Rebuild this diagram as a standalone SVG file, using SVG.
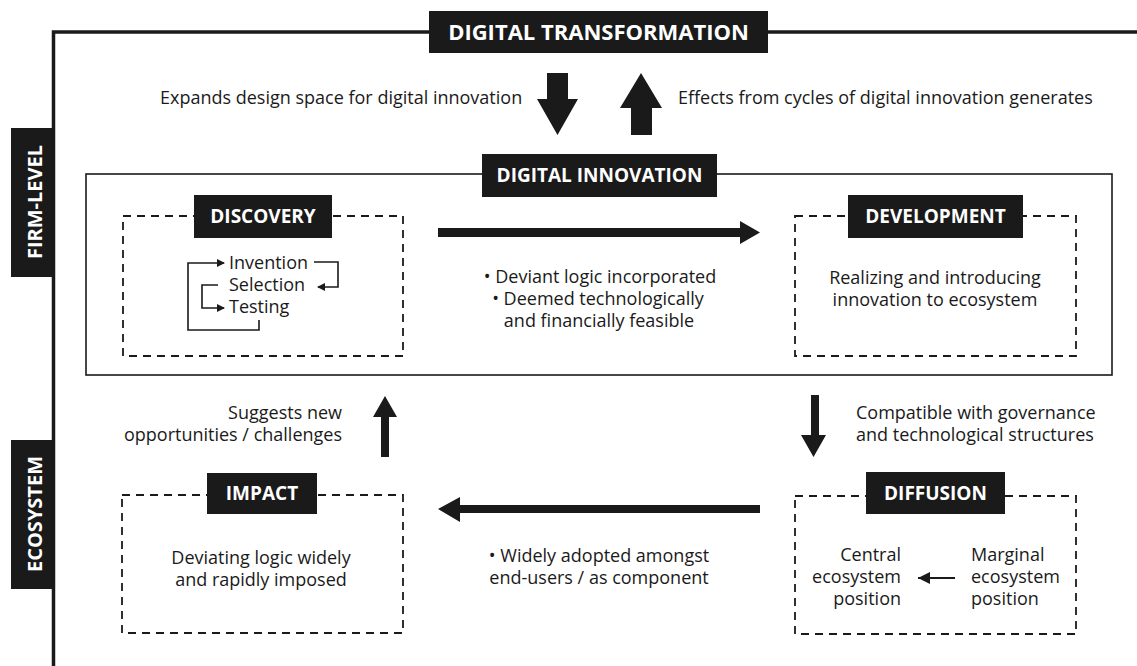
<svg xmlns="http://www.w3.org/2000/svg" width="1137" height="666" viewBox="0 0 1137 666">
<style>
.t{font-family:"Open Sans","Liberation Sans",sans-serif;font-size:18px;fill:#1a1a1a}
.h{font-family:"Open Sans","Liberation Sans",sans-serif;font-weight:bold;font-size:19px;fill:#fff;text-anchor:middle}
.lab{fill:#1a1a1a}
.dash{fill:none;stroke:#1a1a1a;stroke-width:1.8;stroke-dasharray:8 6}
.thin{fill:none;stroke:#1a1a1a;stroke-width:1.6}
.fill{fill:#1a1a1a}
.m{text-anchor:middle}
.e{text-anchor:end}
</style>
<defs>
<marker id="ah" markerWidth="8" markerHeight="8" refX="7" refY="4" orient="auto" markerUnits="userSpaceOnUse" viewBox="0 0 8 8">
<path d="M0,0 L8,4 L0,8 z" fill="#1a1a1a"/>
</marker>
<marker id="ahs" markerWidth="12" markerHeight="12" refX="12" refY="6" orient="auto" markerUnits="userSpaceOnUse" viewBox="0 0 12 12">
<path d="M0,0 L12,6 L0,12 z" fill="#1a1a1a"/>
</marker>
</defs>
<rect width="1137" height="666" fill="#fff"/>

<g id="frame">
<path d="M53.5,666 V32 H1137" fill="none" stroke="#1a1a1a" stroke-width="3.5"/>
</g>

<g id="firm-level">
<rect class="lab" x="11" y="128" width="42" height="149"/>
<text class="h" transform="translate(42,202) rotate(-90)" style="font-size:20px">FIRM-LEVEL</text>
</g>
<g id="ecosystem">
<rect class="lab" x="11" y="440" width="42" height="149"/>
<text class="h" transform="translate(42,514) rotate(-90)" style="font-size:20px">ECOSYSTEM</text>
</g>

<g id="digital-transformation">
<rect class="lab" x="429" y="11" width="339" height="42"/>
<text class="h" x="598.5" y="40" style="font-size:22px">DIGITAL TRANSFORMATION</text>
</g>

<g id="digital-innovation">
<rect x="86" y="174" width="1026" height="201" fill="none" stroke="#1a1a1a" stroke-width="1.6"/>
<rect class="lab" x="482" y="154" width="235" height="43"/>
<text class="h" x="599.5" y="182">DIGITAL INNOVATION</text>
</g>

<g id="discovery">
<rect class="dash" x="123" y="216" width="280" height="140"/>
<rect class="lab" x="194" y="195" width="138" height="43"/>
<text class="h" x="263" y="223">DISCOVERY</text>
<text class="t" x="229" y="269">Invention</text>
<text class="t" x="229" y="291">Selection</text>
<text class="t" x="229" y="313">Testing</text>
<path class="thin" d="M259,320 V330 H188 V263 H224" marker-end="url(#ah)"/>
<path class="thin" d="M314,262 H338 V287 H318" marker-end="url(#ah)"/>
<path class="thin" d="M218,285 H202 V308 H224" marker-end="url(#ah)"/>
</g>

<g id="development">
<rect class="dash" x="795" y="216" width="281" height="140"/>
<rect class="lab" x="848" y="195" width="175" height="43"/>
<text class="h" x="935.5" y="223">DEVELOPMENT</text>
<text class="t m" x="935" y="284">Realizing and introducing</text>
<text class="t m" x="935" y="306">innovation to ecosystem</text>
</g>

<g id="diffusion">
<rect class="dash" x="795" y="496" width="281" height="138"/>
<rect class="lab" x="866" y="472" width="139" height="42"/>
<text class="h" x="935.5" y="500">DIFFUSION</text>
<text class="t e" x="901" y="561">Central</text>
<text class="t e" x="901" y="583">ecosystem</text>
<text class="t e" x="901" y="605">position</text>
<text class="t" x="971" y="561">Marginal</text>
<text class="t" x="971" y="583">ecosystem</text>
<text class="t" x="971" y="605">position</text>
</g>

<g id="impact">
<rect class="dash" x="122" y="495" width="281" height="138"/>
<rect class="lab" x="207" y="473" width="110" height="41"/>
<text class="h" x="262" y="500">IMPACT</text>
<text class="t m" x="261" y="564">Deviating logic widely</text>
<text class="t m" x="261" y="586">and rapidly imposed</text>
</g>

<g id="connectors">
<path class="fill" d="M547,73 H568 V99 H578 L557.5,135 L537,99 H547 Z"/>
<path class="fill" d="M631,135 V108 H620 L641,73 L662,108 H652 V135 Z"/>
<path class="fill" d="M438,228 H740 V221 L760,232.5 L740,244 V237 H438 Z"/>
<path class="fill" d="M811,395 H819 V435 H826 L813.5,457 L801,435 H811 Z"/>
<path class="fill" d="M760,505 V513 H460 V522 L438,509 L460,497 V505 Z"/>
<path class="fill" d="M381,457 V417 H373 L385,396 L397,417 H389 V457 Z"/>
<path class="thin" d="M955,578 H918" marker-end="url(#ahs)" style="stroke-width:2"/>
</g>

<g id="labels">
<text class="t" x="160" y="104">Expands design space for digital innovation</text>
<text class="t" x="678" y="104">Effects from cycles of digital innovation generates</text>
<text class="t m" x="600" y="283">• Deviant logic incorporated</text>
<text class="t m" x="598" y="305">• Deemed technologically</text>
<text class="t m" x="599" y="327">and financially feasible</text>
<text class="t" x="856" y="419">Compatible with governance</text>
<text class="t" x="856" y="441">and technological structures</text>
<text class="t e" x="342" y="419">Suggests new</text>
<text class="t e" x="342" y="441">opportunities / challenges</text>
<text class="t m" x="599" y="562">• Widely adopted amongst</text>
<text class="t m" x="599" y="584">end-users / as component</text>
</g>
</svg>
